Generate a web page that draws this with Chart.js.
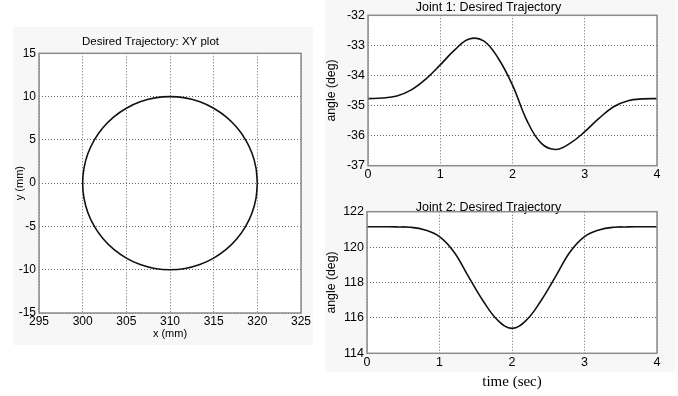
<!DOCTYPE html>
<html>
<head>
<meta charset="utf-8">
<script src="https://cdn.jsdelivr.net/npm/chart.js@4.4.0/dist/chart.umd.min.js"></script>
<style>
body { margin: 0; background: #fff; width: 678px; height: 396px; position: relative; overflow: hidden; }
.fig { position: absolute; background: #f7f7f7; }
canvas { position: absolute; }
</style>
</head>
<body>
<div class="fig" style="left:13px;top:27px;width:300px;height:318px"></div>
<div class="fig" style="left:325px;top:0;width:350px;height:372px"></div>
<canvas id="xyChart" width="320" height="320" style="left:0;top:30px"></canvas>
<canvas id="j1Chart" width="358" height="195" style="left:320px;top:0"></canvas>
<canvas id="j2Chart" width="358" height="201" style="left:320px;top:195px"></canvas>
<script>
// XY trajectory (mm), circle read every 10 deg
const circleX = [320, 319.85, 319.40, 318.66, 317.66, 316.43, 315, 313.42, 311.74,
                 310, 308.26, 306.58, 305, 303.57, 302.34, 301.34, 300.60, 300.15,
                 300, 300.15, 300.60, 301.34, 302.34, 303.57, 305, 306.58, 308.26,
                 310, 311.74, 313.42, 315, 316.43, 317.66, 318.66, 319.40, 319.85, 320];
const circleY = [0, 1.74, 3.42, 5, 6.43, 7.66, 8.66, 9.40, 9.85,
                 10, 9.85, 9.40, 8.66, 7.66, 6.43, 5, 3.42, 1.74,
                 0, -1.74, -3.42, -5, -6.43, -7.66, -8.66, -9.40, -9.85,
                 -10, -9.85, -9.40, -8.66, -7.66, -6.43, -5, -3.42, -1.74, 0];

// joint angles vs time
const timeSec = [0, 0.2, 0.4, 0.6, 0.8, 1.0, 1.2, 1.4, 1.6, 1.8, 2.0,
                 2.2, 2.4, 2.6, 2.8, 3.0, 3.2, 3.4, 3.6, 3.8, 4.0];
const joint1Deg = [-34.77, -34.75, -34.68, -34.48, -34.12, -33.65, -33.15, -32.79, -32.85, -33.42, -34.32,
                   -35.50, -36.26, -36.46, -36.25, -35.87, -35.42, -35.04, -34.84, -34.78, -34.77];
const joint2Deg = [121.15, 121.15, 121.14, 121.12, 120.97, 120.59, 119.72, 118.33, 116.97, 115.88, 115.41,
                   115.88, 116.97, 118.33, 119.72, 120.59, 120.97, 121.12, 121.14, 121.15, 121.15];

// tick labels
const xyTicksX = [295, 300, 305, 310, 315, 320, 325];
const xyTicksY = [-15, -10, -5, 0, 5, 10, 15];
const timeTicks = [0, 1, 2, 3, 4];
const j1Ticks = [-37, -36, -35, -34, -33, -32];
const j2Ticks = [114, 116, 118, 120, 122];

const SANS = "'Liberation Sans', Arial, sans-serif";

const framePlugin = {
  id: 'frame',
  beforeDraw(chart) {
    const a = chart.chartArea, ctx = chart.ctx;
    ctx.save();
    ctx.fillStyle = '#fff';
    ctx.fillRect(a.left, a.top, a.width, a.height);
    ctx.restore();
  },
  afterDraw(chart) {
    const a = chart.chartArea, ctx = chart.ctx;
    ctx.save();
    ctx.strokeStyle = '#8c8c8c';
    ctx.lineWidth = 1.5;
    ctx.strokeRect(a.left, a.top, a.width, a.height);
    ctx.restore();
  }
};

function axis(ticksArr, size, pad, fitSize, isX, title) {
  const a = {
    type: 'linear',
    min: ticksArr[0],
    max: ticksArr[ticksArr.length - 1],
    afterBuildTicks: s => { s.ticks = ticksArr.map(v => ({ value: v })); },
    ticks: { font: { family: SANS, size: size }, color: '#000', padding: pad, maxRotation: 0, autoSkip: false },
    grid: { color: '#666', lineWidth: 1, drawTicks: false },
    border: { display: false, dash: [1, 2] },
    afterFit: s => { if (isX) s.height = fitSize; else s.width = fitSize; }
  };
  if (title) a.title = title;
  return a;
}

function lineSet(xs, ys, tension) {
  return {
    data: xs.map((x, i) => ({ x: x, y: ys[i] })),
    showLine: true,
    borderColor: '#111',
    borderWidth: 1.6,
    pointRadius: 0,
    tension: tension
  };
}

function titleOpt(text, size, top, bottom) {
  return { display: true, text: text, color: '#000', font: { family: SANS, size: size, weight: 'normal' }, padding: { top: top, bottom: bottom } };
}

new Chart(document.getElementById('xyChart'), {
  type: 'scatter',
  data: { datasets: [lineSet(circleX, circleY, 0.335)] },
  options: {
    responsive: false, animation: false,
    layout: { padding: { left: 0, right: 19, top: 0, bottom: 0 } },
    plugins: { legend: { display: false }, tooltip: { enabled: false },
      title: titleOpt('Desired Trajectory: XY plot', 11.5, 5.1, 4.4) },
    scales: {
      x: axis(xyTicksX, 12, 1.5, 37, true,
        { display: true, text: 'x (mm)', color: '#000', font: { family: SANS, size: 11 }, padding: { top: 0, bottom: 9.4 } }),
      y: axis(xyTicksY, 12, 3, 39, false,
        { display: true, text: 'y (mm)', color: '#000', font: { family: SANS, size: 11 }, padding: { top: 13.4, bottom: 0 } })
    }
  },
  plugins: [framePlugin]
});

new Chart(document.getElementById('j1Chart'), {
  type: 'scatter',
  data: { datasets: [lineSet(timeSec, joint1Deg, 0.4)] },
  options: {
    responsive: false, animation: false,
    layout: { padding: { left: 0, right: 21, top: 0, bottom: 0 } },
    plugins: { legend: { display: false }, tooltip: { enabled: false },
      title: titleOpt('Joint 1: Desired Trajectory', 12.5, 0, 0.3) },
    scales: {
      x: axis(timeTicks, 12.5, 1.5, 29.3, true, null),
      y: axis(j1Ticks, 12.5, 3, 48, false,
        { display: true, text: 'angle (deg)', color: '#000', font: { family: SANS, size: 12.3 }, padding: { top: 4.6, bottom: 0 } })
    }
  },
  plugins: [framePlugin]
});

new Chart(document.getElementById('j2Chart'), {
  type: 'scatter',
  data: { datasets: [lineSet(timeSec, joint2Deg, 0.4)] },
  options: {
    responsive: false, animation: false,
    layout: { padding: { left: 0, right: 21, top: 0, bottom: 0 } },
    plugins: { legend: { display: false }, tooltip: { enabled: false },
      title: titleOpt('Joint 2: Desired Trajectory', 12.5, 4.8, -3.1) },
    scales: {
      x: axis(timeTicks, 12.5, 2, 42.7, true,
        { display: true, text: 'time (sec)', color: '#000', font: { family: "'Liberation Serif', 'Times New Roman', serif", size: 15 }, padding: { top: 0, bottom: 5 } }),
      y: axis(j2Ticks, 12.5, 3, 47, false,
        { display: true, text: 'angle (deg)', color: '#000', font: { family: SANS, size: 12.3 }, padding: { top: 4.6, bottom: 0 } })
    }
  },
  plugins: [framePlugin]
});
</script>
</body>
</html>
